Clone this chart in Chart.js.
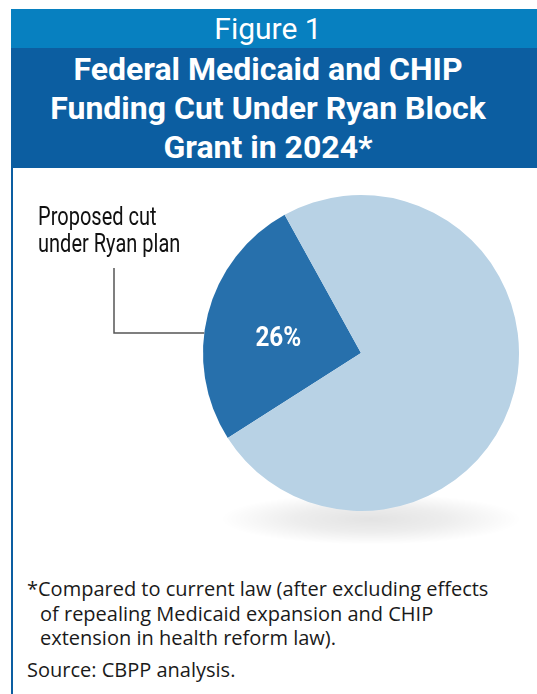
<!DOCTYPE html>
<html>
<head>
<meta charset="utf-8">
<script src="https://cdn.jsdelivr.net/npm/chart.js@4.4.1/dist/chart.umd.min.js"></script>
<style>
  body { margin: 0; background: #fff; font-family: Roboto, "Liberation Sans", sans-serif; }
  #page { position: relative; width: 537px; height: 694px; overflow: hidden; }
  #fig { position: absolute; left: 11px; top: 9px; width: 526px; height: 39px; box-sizing: border-box; padding-right: 12px;
         background: #0780c0; color: #fff; font-size: 30px; line-height: 40px; text-align: center; }
  #title { position: absolute; left: 11px; top: 48px; width: 526px; height: 120px; box-sizing: border-box; padding: 2px 12px 0 0;
           background: #0c5ea1; color: #fff; font-weight: bold; font-size: 32px; line-height: 39px; text-align: center; }
  #border { position: absolute; left: 11px; top: 48px; width: 2px; height: 646px; background: #0c5ea1; }
  #wrap { position: absolute; left: 14px; top: 170px; width: 523px; height: 390px; }
  #callout { position: absolute; left: 38px; top: 203px; font-size: 26px; line-height: 27px; color: #111;
             transform: scaleX(0.77); transform-origin: left top; white-space: nowrap; }
  #note { position: absolute; left: 27px; top: 577px; font-family: "Open Sans", Roboto, sans-serif; font-size: 20px; line-height: 24.5px; color: #1a1a1a; white-space: nowrap; }
  #note .ind { padding-left: 13px; }
  #src { position: absolute; left: 27px; top: 656px; font-family: "Open Sans", Roboto, sans-serif; font-size: 20px; color: #1a1a1a; }
</style>
</head>
<body>
<div id="page">
  <div id="fig">Figure 1</div>
  <div id="title">Federal Medicaid and CHIP<br>Funding Cut Under Ryan Block<br>Grant in 2024*</div>
  <div id="border"></div>
  <div id="wrap"><canvas id="pie"></canvas></div>
  <div id="callout">Proposed cut<br>under Ryan plan</div>
  <div id="note">*Compared to current law (after excluding effects<br><span class="ind">of repealing Medicaid expansion and CHIP</span><br><span class="ind">extension in health reform law).</span></div>
  <div id="src">Source: CBPP analysis.</div>
</div>
<script>
// data
var categories = ['Proposed cut under Ryan plan', 'Remaining federal funding'];
var shares = [26, 74];
var sliceColors = ['#2770ac', '#b8d2e5'];

var pieDecor = {
  id: 'pieDecor',
  beforeDatasetsDraw: function(chart) {
    var arc = chart.getDatasetMeta(0).data[0];
    var ctx = chart.ctx;
    var r = arc.outerRadius;
    // soft floor shadow under the pie
    ctx.save();
    ctx.translate(arc.x + 10, arc.y + r + 8);
    ctx.scale(1, 0.17);
    var g = ctx.createRadialGradient(0, 0, 0, 0, 0, 150);
    g.addColorStop(0, 'rgba(0,0,0,0.11)');
    g.addColorStop(0.5, 'rgba(0,0,0,0.07)');
    g.addColorStop(1, 'rgba(0,0,0,0)');
    ctx.fillStyle = g;
    ctx.beginPath();
    ctx.arc(0, 0, 150, 0, Math.PI * 2);
    ctx.fill();
    ctx.restore();
  },
  afterDatasetsDraw: function(chart) {
    var arc = chart.getDatasetMeta(0).data[0];
    var ctx = chart.ctx;
    var r = arc.outerRadius;
    // leader line from the callout text to the slice edge
    var ly = arc.y - 20;
    var lx = arc.x - Math.sqrt(r * r - 20 * 20);
    ctx.save();
    ctx.strokeStyle = '#555';
    ctx.lineWidth = 1.5;
    ctx.beginPath();
    ctx.moveTo(100, 98);
    ctx.lineTo(100, ly);
    ctx.lineTo(lx, ly);
    ctx.stroke();
    // percentage inside the slice
    var mid = (arc.startAngle + arc.endAngle) / 2;
    var d = r * 0.54;
    var px = arc.x + Math.cos(mid) * d;
    var py = arc.y + Math.sin(mid) * d + 7;
    ctx.translate(px, py);
    ctx.scale(0.9, 1);
    ctx.fillStyle = '#fff';
    ctx.font = 'bold 27px Roboto, sans-serif';
    ctx.textAlign = 'center';
    ctx.textBaseline = 'middle';
    ctx.fillText(shares[0] + '%', 0, 0);
    ctx.restore();
  }
};

new Chart(document.getElementById('pie'), {
  type: 'pie',
  data: {
    labels: categories,
    datasets: [{ data: shares, backgroundColor: sliceColors, borderWidth: 0 }]
  },
  options: {
    responsive: true,
    maintainAspectRatio: false,
    animation: false,
    rotation: -122.5,
    layout: { padding: { left: 189, right: 18, top: 25, bottom: 49 } },
    plugins: { legend: { display: false }, tooltip: { enabled: false } }
  },
  plugins: [pieDecor]
});
</script>
</body>
</html>
